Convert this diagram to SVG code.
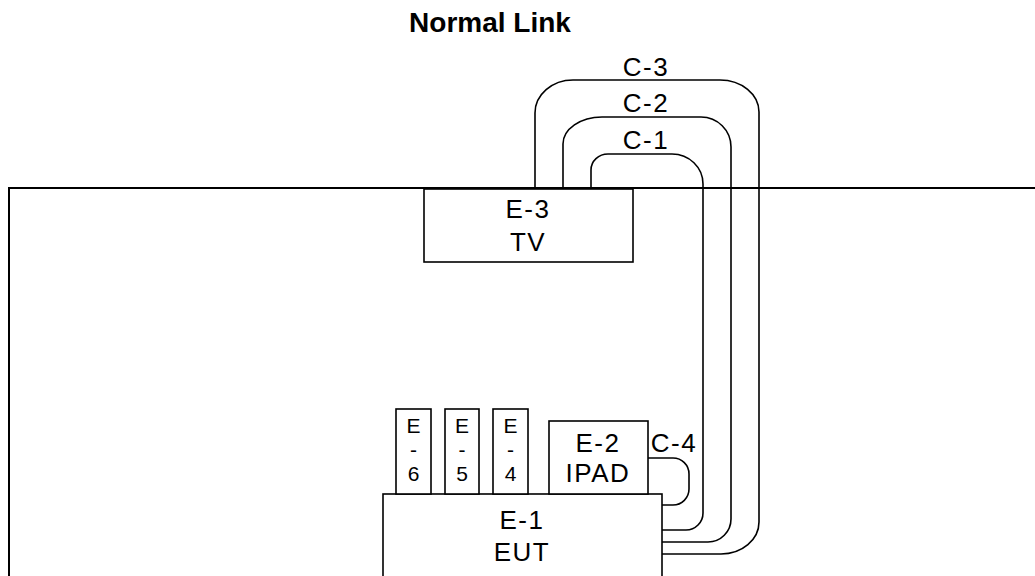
<svg xmlns="http://www.w3.org/2000/svg" width="1035" height="576" viewBox="0 0 1035 576">
<style>
.box{fill:#fff;stroke:#000;stroke-width:1.6}
.cab{fill:none;stroke:#000;stroke-width:1.6}
.t{font-family:"Liberation Sans",Arial,sans-serif;font-size:26px;fill:#000;text-anchor:middle;letter-spacing:1.5px}
.s{font-family:"Liberation Sans",Arial,sans-serif;font-size:21px;fill:#000;text-anchor:middle}
.title{font-family:"Liberation Sans",Arial,sans-serif;font-size:28px;font-weight:bold;fill:#000;text-anchor:middle}
</style>
<rect width="1035" height="576" fill="#fff"/>
<text class="title" x="490" y="32">Normal Link</text>
<g id="room"><path class="cab" d="M9,576 V188 H1035" style="stroke-width:2"/></g>
<g id="connectors">
<path class="cab" d="M591,191 V170 A17,16 0 0 1 608,154 H672 A31,30 0 0 1 703,184 V513 A17,17 0 0 1 686,530 H662"/>
<path class="cab" d="M563,188 V144 A39,27 0 0 1 602,117 H701 A30,30 0 0 1 731,147 V519 A23,23 0 0 1 708,542 H662"/>
<path class="cab" d="M535,188 V113 A38,33 0 0 1 573,80 H720 A39,32 0 0 1 759,112 V522 A38,32 0 0 1 721,554 H662"/>
<path class="cab" d="M648,458 H673 A16,16 0 0 1 689,474 V489 A16,16 0 0 1 673,505 H662"/>
<text class="t" x="646" y="76">C-3</text>
<text class="t" x="646" y="112">C-2</text>
<text class="t" x="646" y="149">C-1</text>
<text class="t" x="674" y="452">C-4</text>
</g>
<g id="E3">
<rect class="box" x="424" y="189" width="209" height="73"/>
<text class="t" x="528" y="218">E-3</text>
<text class="t" x="528" y="251">TV</text>
</g>
<g id="E1">
<rect class="box" x="383" y="494" width="279" height="100"/>
<text class="t" x="522" y="529">E-1</text>
<text class="t" x="522" y="561">EUT</text>
</g>
<g id="E2">
<rect class="box" x="549" y="421" width="99" height="73"/>
<text class="t" x="598" y="452">E-2</text>
<text class="t" x="598" y="482">IPAD</text>
</g>
<g id="E6">
<rect class="box" x="396" y="409" width="35" height="85"/>
<text class="s" x="413.5" y="433">E</text>
<text class="s" x="413.5" y="457">-</text>
<text class="s" x="413.5" y="481">6</text>
</g>
<g id="E5">
<rect class="box" x="445" y="409" width="34" height="85"/>
<text class="s" x="462" y="433">E</text>
<text class="s" x="462" y="457">-</text>
<text class="s" x="462" y="481">5</text>
</g>
<g id="E4">
<rect class="box" x="493" y="409" width="35" height="85"/>
<text class="s" x="510.5" y="433">E</text>
<text class="s" x="510.5" y="457">-</text>
<text class="s" x="510.5" y="481">4</text>
</g>
</svg>
